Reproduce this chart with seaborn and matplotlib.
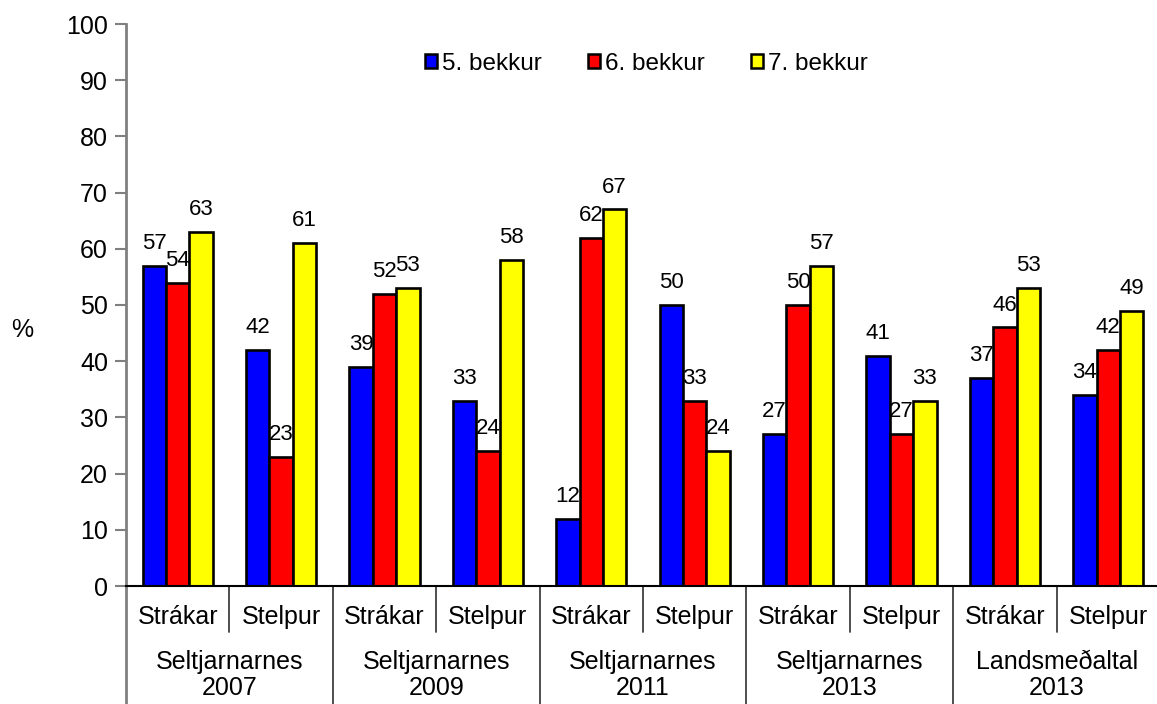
import matplotlib
matplotlib.use("Agg")
import matplotlib.pyplot as plt
import seaborn as sns
import pandas as pd
from matplotlib.lines import Line2D

groups = ["Seltjarnarnes\n2007", "Seltjarnarnes\n2009", "Seltjarnarnes\n2011",
          "Seltjarnarnes\n2013", "Landsmeðaltal\n2013"]
subgroups = ["Strákar", "Stelpur"]
grades = ["5. bekkur", "6. bekkur", "7. bekkur"]
grade5 = [57, 42, 39, 33, 12, 50, 27, 41, 37, 34]
grade6 = [54, 23, 52, 24, 62, 33, 50, 27, 46, 42]
grade7 = [63, 61, 53, 58, 67, 24, 57, 33, 53, 49]
colors = ["#0000FF", "#FF0000", "#FFFF00"]

slots = [f"{g} | {s}" for g in groups for s in subgroups]
rows = []
for vals, grade in zip([grade5, grade6, grade7], grades):
    for slot, v in zip(slots, vals):
        rows.append({"slot": slot, "grade": grade, "value": v})
df = pd.DataFrame(rows)

sns.set_theme(style="white")
plt.rcParams["font.family"] = ["Liberation Sans", "DejaVu Sans"]
plt.rcParams["text.color"] = "black"
plt.rcParams["xtick.color"] = "black"
plt.rcParams["ytick.color"] = "black"
plt.rcParams["axes.labelcolor"] = "black"

fig = plt.figure(figsize=(11.57, 7.04), dpi=100)
ax = fig.add_axes([126 / 1157, 1 - 586 / 704, (1160 - 126) / 1157, (586 - 24) / 704])

sns.barplot(data=df, x="slot", y="value", hue="grade", order=slots, hue_order=grades,
            palette=colors, width=0.68, edgecolor="black", linewidth=1.9,
            saturation=1, legend=False, ax=ax)

for cont in ax.containers:
    ax.bar_label(cont, fmt="%d", padding=8.5, fontsize=16, color="black")

ax.set_ylim(0, 100)
ax.set_xlim(-0.5, 9.5)
ax.set_yticks(range(0, 101, 10))
ax.tick_params(axis="y", labelsize=18, length=8, width=1.5, color="#808080",
               labelcolor="black", direction="out", left=True, pad=5)
ax.tick_params(axis="x", length=0, labelsize=18, pad=14, labelcolor="black")
ax.set_xticks(range(len(slots)))
ax.set_xticklabels(subgroups * len(groups))
ax.set_xlabel("")
ax.set_ylabel("%", rotation=0, fontsize=18, labelpad=0, color="black",
              va="center", ha="center")
ax.yaxis.set_label_coords(-0.1, 0.455)

for side in ["top", "right"]:
    ax.spines[side].set_visible(False)
ax.spines["left"].set_color("#808080")
ax.spines["left"].set_linewidth(2)
ax.spines["bottom"].set_color("black")
ax.spines["bottom"].set_linewidth(1.5)

# category separators below the axis
trans = ax.get_xaxis_transform()
ax_h = 562
for i in range(len(slots) + 1):
    x = i - 0.5
    if i % 2 == 0:
        y_end = -(704 - 586) / ax_h
        col = "#808080" if i == 0 else "#404040"
        lw = 2 if i == 0 else 1.3
    else:
        y_end = -(632 - 586) / ax_h
        col = "#404040"
        lw = 1.3
    ax.add_line(Line2D([x, x], [0, y_end], transform=trans, color=col, lw=lw,
                       clip_on=False))

for gi, g in enumerate(groups):
    ax.text(2 * gi + 0.5, -(675 - 586) / ax_h, g, transform=trans, ha="center",
            va="center", fontsize=18, linespacing=1.15, color="black")

handles = [plt.Rectangle((0, 0), 1, 1, facecolor=c, edgecolor="black", linewidth=1.8)
           for c in colors]
fig.legend(handles, grades, loc="center", bbox_to_anchor=(646 / 1157, 1 - 64 / 704),
           ncol=3, frameon=False, fontsize=17.5, handlelength=0.5, handleheight=0.5,
           handletextpad=0.2, columnspacing=1.9)

fig.savefig("out.png", dpi=100)
